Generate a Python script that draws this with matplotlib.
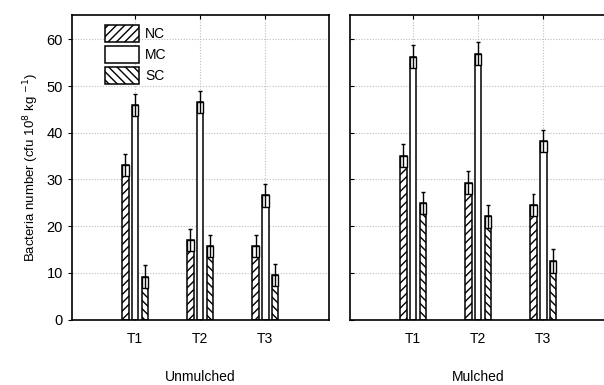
import numpy as np
import matplotlib as mpl
mpl.use("Agg")
import matplotlib.pyplot as plt
from matplotlib.patches import Patch

plt.rcParams["font.family"] = ["Liberation Sans", "DejaVu Sans"]
plt.rcParams["hatch.linewidth"] = 1.0

treatments = ["T1", "T2", "T3"]
series = ["NC", "MC", "SC"]
panels = ["Unmulched", "Mulched"]

# means and standard errors
unmulchedMeans = {"NC": [33.1, 17.0, 15.7], "MC": [45.9, 46.6, 26.6], "SC": [9.2, 15.7, 9.5]}
unmulchedErrs = {"NC": [2.4, 2.3, 2.4], "MC": [2.4, 2.4, 2.4], "SC": [2.4, 2.3, 2.4]}
mulchedMeans = {"NC": [35.1, 29.3, 24.5], "MC": [56.3, 56.9, 38.2], "SC": [24.9, 22.1, 12.5]}
mulchedErrs = {"NC": [2.4, 2.4, 2.4], "MC": [2.4, 2.5, 2.4], "SC": [2.4, 2.4, 2.5]}

hatches = {"NC": "////", "MC": "", "SC": "\\\\\\\\"}
offsets = {"NC": -0.15, "MC": 0.0, "SC": 0.15}
barWidth = 0.1

fig = plt.figure(figsize=(6.04, 3.85), dpi=100)
axLeft = fig.add_axes([0.119, 0.170, 0.426, 0.791])
axRight = fig.add_axes([0.5795, 0.170, 0.4255, 0.791])

x = np.arange(1, len(treatments) + 1)

for ax, means, errs, name in [(axLeft, unmulchedMeans, unmulchedErrs, panels[0]),
    (axRight, mulchedMeans, mulchedErrs, panels[1])]:
  ax.set_axisbelow(True)
  ax.grid(True, color="#bdbdbd", linestyle=(0, (1, 1.5)), linewidth=0.8)
  for s in series:
    xs = x + offsets[s]
    m = np.array(means[s])
    e = np.array(errs[s])
    ax.bar(xs, m, width=barWidth, color="white", edgecolor="black",
        hatch=hatches[s], linewidth=1.1, zorder=2)
    # unhatched box at the top of the bar where the error whisker sits
    ax.bar(xs, e, bottom=m - e, width=barWidth, color="white", edgecolor="black",
        linewidth=1.0, zorder=3)
    ax.vlines(xs, m - e, m + e, color="black", linewidth=1.0, zorder=4)
    ax.hlines(m + e, xs - 0.03, xs + 0.03, color="black", linewidth=1.0, zorder=4)

  ax.set_xlim(0.03, 3.98)
  ax.set_ylim(0, 65.2)
  ax.set_xticks(x)
  ax.set_xticklabels(treatments, fontsize=10)
  ax.set_yticks(np.arange(0, 61, 10))
  ax.tick_params(axis="x", direction="in", length=3, top=True, pad=9)
  ax.set_xlabel(name, fontsize=10, labelpad=17)
  for sp in ax.spines.values():
    sp.set_linewidth(1.2)

axLeft.tick_params(axis="y", direction="out", length=3, labelsize=10.5)
axLeft.set_ylabel("Bacteria number (cfu 10$^{8}$ kg $^{-1}$)", fontsize=9.5, labelpad=4)
axRight.tick_params(axis="y", direction="in", length=3, labelleft=False)

handles = [Patch(facecolor="white", edgecolor="black", hatch=hatches[s], linewidth=1.1, label=s)
    for s in series]
axLeft.legend(handles=handles, loc="upper left", bbox_to_anchor=(0.09, 1.0), frameon=False,
    fontsize=10, handlelength=2.5, handleheight=1.5, handletextpad=0.4, labelspacing=0.3,
    borderaxespad=0.3)

fig.savefig("out.png", dpi=100)
